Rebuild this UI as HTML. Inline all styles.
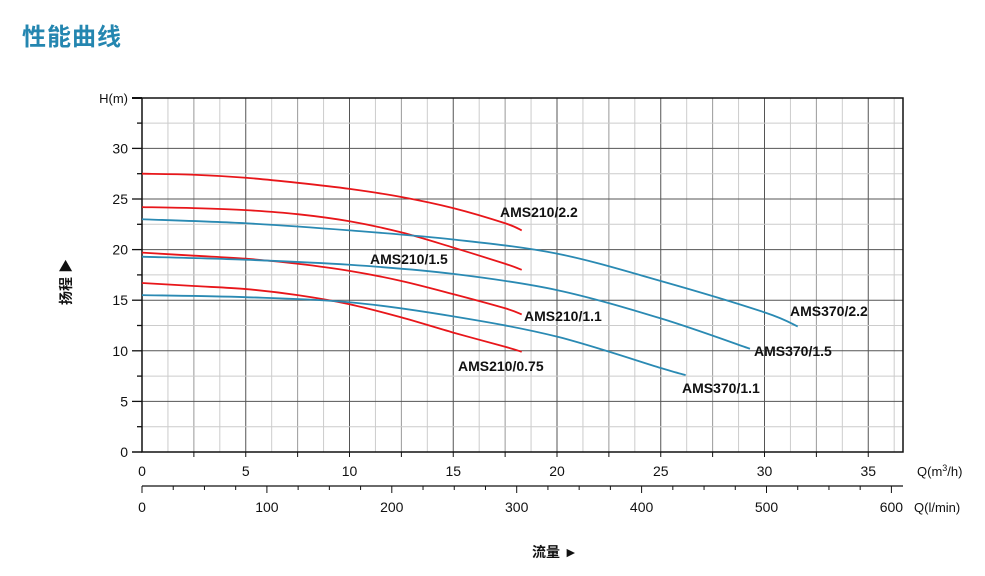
<!DOCTYPE html>
<html><head><meta charset="utf-8">
<style>
html,body{margin:0;padding:0;background:#fff;width:985px;height:576px;overflow:hidden}
svg text{font-family:"Liberation Sans","Noto Sans CJK SC",sans-serif}
</style></head>
<body>
<svg id="c" width="985" height="576" viewBox="0 0 985 576" xmlns="http://www.w3.org/2000/svg">
<text x="22" y="45" font-size="24" font-weight="bold" fill="#2486b0" letter-spacing="1" font-family="'Liberation Sans','Noto Sans CJK SC',sans-serif">性能曲线</text>
<g id="grid"></g>
<g id="axes"></g>
<g id="series"></g>
<text transform="translate(71,282) rotate(-90)" font-size="14" font-weight="bold" text-anchor="middle" fill="#111">扬程 ▶</text>
<text x="532" y="557" font-size="14" font-weight="bold" fill="#111">流量 ►</text>
</svg>
<script>
const seriesNames = ["AMS210/2.2","AMS210/1.5","AMS210/1.1","AMS210/0.75","AMS370/2.2","AMS370/1.5","AMS370/1.1"];
const seriesColors = ["#e8161a","#e8161a","#e8161a","#e8161a","#2a8ab3","#2a8ab3","#2a8ab3"];
const q210 = [0,2.5,5,7.5,10,12.5,15,17.5,18.3];
const h210_22 = [27.5,27.4,27.1,26.6,26.0,25.2,24.1,22.6,21.9];
const h210_15 = [24.2,24.1,23.9,23.5,22.8,21.7,20.2,18.6,18.0];
const h210_11 = [19.7,19.4,19.1,18.6,17.9,16.9,15.6,14.2,13.6];
const h210_075 = [16.7,16.4,16.1,15.5,14.6,13.3,11.8,10.4,9.9];
const q370_22 = [0,5,10,15,20,25,30,31.6];
const h370_22 = [23.0,22.6,21.9,21.0,19.6,16.9,13.8,12.4];
const q370_15 = [0,5,10,15,20,25,29.3];
const h370_15 = [19.3,19.0,18.5,17.6,16.0,13.2,10.2];
const q370_11 = [0,5,10,15,20,25,26.2];
const h370_11 = [15.5,15.3,14.8,13.4,11.4,8.3,7.6];
const yTicks = [0,5,10,15,20,25,30];
const xTicks = [0,5,10,15,20,25,30,35];
const lminTicks = [0,100,200,300,400,500,600];
const labelPos = [[500,217],[370,264],[524,321],[458,371],[790,316],[754,356],[682,393]];

const X0=142, XS=20.75, Y0=452, YS=10.12, XR=903, YT=98;
const LX0=142, LXS=1.249, LY=486;
const sx=q=>X0+q*XS, sy=h=>Y0-h*YS, sl=v=>LX0+v*LXS;
const NS="http://www.w3.org/2000/svg";
function mk(tag,attrs,parent){const e=document.createElementNS(NS,tag);for(const k in attrs)e.setAttribute(k,attrs[k]);parent.appendChild(e);return e;}
const grid=document.getElementById('grid'), axes=document.getElementById('axes'), ser=document.getElementById('series');

for(let i=1;i*1.25*XS+X0<XR-2;i++){
  const q=i*1.25, x=sx(q);
  const col = (i%4===0)?"#555":(i%2===0?"#999":"#ccc");
  const l=mk('line',{x1:x,y1:YT,x2:x,y2:Y0,stroke:col,'stroke-width':1},grid);
  
  
}
for(let i=1;i<14;i++){
  const y=sy(i*2.5);
  const l=mk('line',{x1:X0,y1:y,x2:XR,y2:y,stroke:(i%2===0?"#555":"#ccc"),'stroke-width':1},grid);
  
  
}
const frame=mk('rect',{x:X0,y:YT,width:XR-X0,height:Y0-YT,fill:'none',stroke:'#111','stroke-width':1.5},axes);


mk('line',{x1:132,y1:YT,x2:X0,y2:YT,stroke:'#111','stroke-width':2},axes);
const ht=mk('text',{x:128,y:YT+5,'font-size':13,'text-anchor':'end',fill:'#111'},axes);
ht.textContent='H(m)';


for(let i=1;i<14;i++){const y=sy(i*2.5);mk('line',{x1:(i%2===0?132:137),y1:y,x2:X0,y2:y,stroke:'#111','stroke-width':1.3},axes);}
mk('line',{x1:132,y1:Y0,x2:X0,y2:Y0,stroke:'#111','stroke-width':1.5},axes);
yTicks.forEach(v=>{
  const t=mk('text',{x:128,y:sy(v)+5,'font-size':14,'text-anchor':'end',fill:'#111'},axes);
  t.textContent=v;
  
  
});
for(let i=1;i*2.5*XS+X0<XR;i++){const x=sx(i*2.5);mk('line',{x1:x,y1:Y0,x2:x,y2:Y0+5,stroke:'#111','stroke-width':1},axes);}
xTicks.forEach(v=>{
  const t=mk('text',{x:sx(v),y:Y0+24,'font-size':14,'text-anchor':'middle',fill:'#111'},axes);
  t.textContent=v;
  
  
});
const qu=mk('text',{x:917,y:Y0+24,'font-size':13,fill:'#111'},axes);
qu.innerHTML='Q(m<tspan dy="-5" font-size="9">3</tspan><tspan dy="5">/h)</tspan>';


mk('line',{x1:X0,y1:LY,x2:XR,y2:LY,stroke:'#111','stroke-width':1.2},axes);
for(let v=0;v<=600;v+=25){const x=sl(v);mk('line',{x1:x,y1:LY,x2:x,y2:LY+(v%100===0?7:4),stroke:'#111','stroke-width':1},axes);}
lminTicks.forEach(v=>{
  const t=mk('text',{x:sl(v),y:LY+26,'font-size':14,'text-anchor':'middle',fill:'#111'},axes);
  t.textContent=v;
  
  
});
const lu=mk('text',{x:914,y:LY+26,'font-size':13,fill:'#111'},axes);
lu.textContent='Q(l/min)';



const allQ=[q210,q210,q210,q210,q370_22,q370_15,q370_11];
const allH=[h210_22,h210_15,h210_11,h210_075,h370_22,h370_15,h370_11];
function smooth(pts){
  let d=`M${pts[0][0]},${pts[0][1]}`;
  for(let i=0;i<pts.length-1;i++){
    const p0=pts[i-1]||pts[i],p1=pts[i],p2=pts[i+1],p3=pts[i+2]||p2;
    const c1=[p1[0]+(p2[0]-p0[0])/6,p1[1]+(p2[1]-p0[1])/6];
    const c2=[p2[0]-(p3[0]-p1[0])/6,p2[1]-(p3[1]-p1[1])/6];
    d+=` C${c1[0]},${c1[1]} ${c2[0]},${c2[1]} ${p2[0]},${p2[1]}`;
  }
  return d;
}
seriesNames.forEach((n,i)=>{
  const pts=allQ[i].map((q,j)=>[sx(q),sy(allH[i][j])]);
  const p=mk('path',{d:smooth(pts),fill:'none',stroke:seriesColors[i],'stroke-width':1.8},ser);
  
  
  const t=mk('text',{x:labelPos[i][0],y:labelPos[i][1],'font-size':14,'font-weight':'bold',fill:'#111'},ser);
  t.textContent=n;
  
  
});
</script>
</body></html>
